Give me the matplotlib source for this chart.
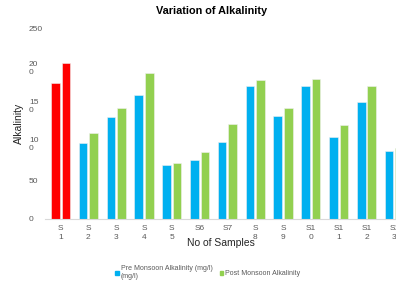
import matplotlib.pyplot as plt
import numpy as np
from matplotlib.patches import Patch

samples = ['S\n1', 'S\n2', 'S\n3', 'S\n4', 'S\n5', 'S6', 'S7',
           'S\n8', 'S\n9', 'S1\n0', 'S1\n1', 'S1\n2', 'S1\n3']
pre_monsoon = [178, 100, 134, 163, 70, 77, 101, 175, 135, 174, 107, 153, 89]
post_monsoon = [204, 113, 146, 192, 73, 87, 124, 182, 146, 184, 123, 175, 93]
y_ticks = [0, 50, 100, 150, 200, 250]
y_tick_labels = ['0', '50', '10\n0', '15\n0', '20\n0', '250']

plt.rcParams['font.family'] = ['Liberation Sans', 'DejaVu Sans']

fig = plt.figure(figsize=(3.96, 2.83), dpi=100)
ax = fig.add_axes([45 / 396, 64.5 / 283, 351 / 396, 190 / 283])

x = np.arange(len(samples))
w = 0.31
pre_colors = ['#FF0000'] + ['#00B0F0'] * (len(samples) - 1)
post_colors = ['#FF0000'] + ['#92D050'] * (len(samples) - 1)
ax.bar(x - 0.19, pre_monsoon, w, color=pre_colors, edgecolor='#f0f0f0', linewidth=0.4)
ax.bar(x + 0.19, post_monsoon, w, color=post_colors, edgecolor='#f0f0f0', linewidth=0.4)

ax.set_xlim(-0.56, 12.06)
ax.set_ylim(0, 250)
for s in ['top', 'right', 'left']:
    ax.spines[s].set_visible(False)
ax.spines['bottom'].set_color('#d9d9d9')
ax.spines['bottom'].set_linewidth(0.8)

ax.set_xticks(x)
ax.set_xticklabels(samples, fontsize=6, color='#595959', linespacing=1.25)
ax.tick_params(axis='x', length=0, pad=5)

ax.set_yticks(y_ticks)
ax.set_yticklabels(y_tick_labels, fontsize=6, color='#595959', linespacing=1.2)
ax.tick_params(axis='y', length=0, pad=11.5)
for lab in ax.get_yticklabels():
    lab.set_horizontalalignment('left')
    lab.set_verticalalignment('center_baseline')

ax.set_ylabel('Alkalinity', fontsize=7.5, color='#262626')
ax.yaxis.set_label_coords(-0.06, 0.5)
ax.set_xlabel('No of Samples', fontsize=7.5, color='#262626')
ax.xaxis.set_label_coords(0.5, -0.105)

fig.text(0.535, 0.962, 'Variation of Alkalinity', ha='center', va='center',
         fontsize=7.8, fontweight='bold', color='#000000',
         family=['Liberation Sans Narrow', 'Liberation Sans'])

handles = [Patch(color='#00B0F0'), Patch(color='#92D050')]
fig.legend(handles, ['Pre Monsoon Alkalinity (mg/l)\n(mg/l)', 'Post Monsoon Alkalinity'],
           loc='upper left', bbox_to_anchor=(112 / 396, 1 - 262 / 283), ncol=2,
           frameon=False, fontsize=5, handlelength=0.5, handleheight=0.5,
           handletextpad=0.3, columnspacing=1.0, borderpad=0, labelcolor='#595959')

fig.savefig('out.png', dpi=100)
